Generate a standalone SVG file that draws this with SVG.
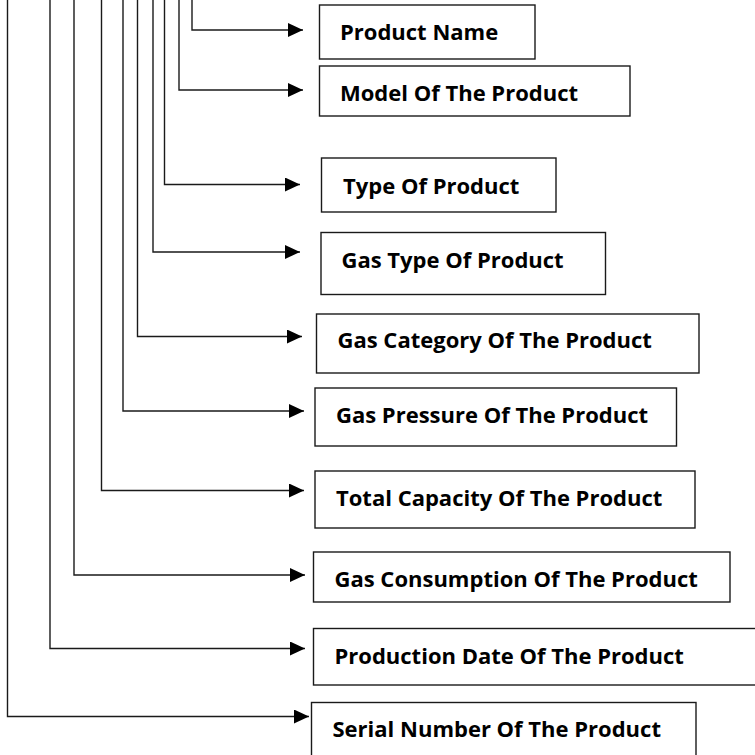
<svg xmlns="http://www.w3.org/2000/svg" width="755" height="755" viewBox="0 0 755 755">
<defs>
<marker id="ah" markerUnits="userSpaceOnUse" markerWidth="16" markerHeight="15" refX="15" refY="7" orient="auto">
<path d="M0,0 L15,7 L0,14 Z" fill="#000"/>
</marker>
<style>
.c{fill:none;stroke:#1a1a1a;stroke-width:1.4}
.b{fill:#fff;stroke:#1a1a1a;stroke-width:1.4}
.t{font-family:"Open Sans","Noto Sans",sans-serif;font-weight:bold;font-size:22px;fill:#000}
</style>
</defs>
<rect width="755" height="755" fill="#fff"/>
<g id="connectors">
<path class="c" d="M192,0 V30 H303" marker-end="url(#ah)"/>
<path class="c" d="M179,0 V90 H303" marker-end="url(#ah)"/>
<path class="c" d="M164.5,0 V184.5 H300" marker-end="url(#ah)"/>
<path class="c" d="M153,0 V252 H300" marker-end="url(#ah)"/>
<path class="c" d="M137.5,0 V336.5 H302" marker-end="url(#ah)"/>
<path class="c" d="M123,0 V411 H304" marker-end="url(#ah)"/>
<path class="c" d="M101.5,0 V490.5 H304" marker-end="url(#ah)"/>
<path class="c" d="M74,0 V575 H305" marker-end="url(#ah)"/>
<path class="c" d="M50,0 V648.5 H305" marker-end="url(#ah)"/>
<path class="c" d="M7.5,0 V716.5 H309" marker-end="url(#ah)"/>
</g>
<g id="n1"><rect class="b" x="319.5" y="5" width="215.5" height="54"/><text class="t" x="340" y="40">Product Name</text></g>
<g id="n2"><rect class="b" x="319.5" y="66" width="310.5" height="50"/><text class="t" x="340" y="100.5">Model Of The Product</text></g>
<g id="n3"><rect class="b" x="321.5" y="158" width="234.5" height="54"/><text class="t" x="343" y="194">Type Of Product</text></g>
<g id="n4"><rect class="b" x="321" y="232.5" width="284.5" height="62"/><text class="t" x="341.5" y="268">Gas Type Of Product</text></g>
<g id="n5"><rect class="b" x="316.5" y="314" width="382.5" height="59"/><text class="t" x="337.5" y="348">Gas Category Of The Product</text></g>
<g id="n6"><rect class="b" x="315" y="388" width="361.5" height="58"/><text class="t" x="336" y="423">Gas Pressure Of The Product</text></g>
<g id="n7"><rect class="b" x="315" y="471" width="380" height="57"/><text class="t" x="336" y="506">Total Capacity Of The Product</text></g>
<g id="n8"><rect class="b" x="313.5" y="552" width="416.5" height="50"/><text class="t" x="334.5" y="587">Gas Consumption Of The Product</text></g>
<g id="n9"><rect class="b" x="313.5" y="628.5" width="450" height="56.5"/><text class="t" x="334.5" y="663.5">Production Date Of The Product</text></g>
<g id="n10"><rect class="b" x="311.5" y="702.5" width="384.5" height="70"/><text class="t" x="332.5" y="737">Serial Number Of The Product</text></g>
</svg>
